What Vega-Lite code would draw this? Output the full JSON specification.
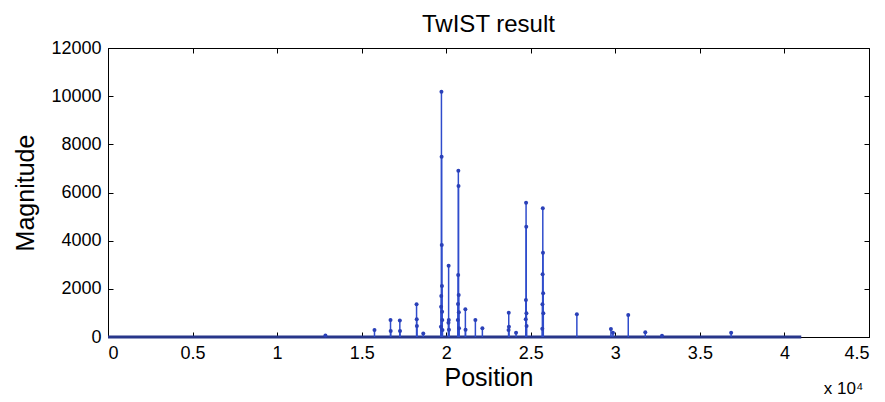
{
  "$schema": "https://vega.github.io/schema/vega-lite/v6.json",
  "autosize": "none",
  "width": 761,
  "height": 289,
  "padding": {"left": 108, "top": 48, "right": 16, "bottom": 65},
  "background": "white",
  "config": {
    "font": "Liberation Sans",
    "view": {"stroke": "black", "strokeWidth": 1},
    "axis": {
      "domainColor": "black", "tickColor": "black", "labelColor": "black", "titleColor": "black",
      "grid": false, "labelFontSize": 18, "titleFontSize": 25, "titleFontWeight": "normal",
      "tickSize": -5, "labelPadding": 12
    }
  },
  "title": {"text": "TwIST result", "fontSize": 24, "fontWeight": "normal", "color": "black", "offset": 2},
  "datasets": {
    "stems": [
      {"x": 12856, "y": 60},
      {"x": 15758, "y": 290},
      {"x": 16706, "y": 706}, {"x": 16716, "y": 250},
      {"x": 17257, "y": 690}, {"x": 17267, "y": 250},
      {"x": 18246, "y": 1358}, {"x": 18256, "y": 735}, {"x": 18266, "y": 455},
      {"x": 18643, "y": 150},
      {"x": 19717, "y": 10187}, {"x": 19727, "y": 7488}, {"x": 19737, "y": 3820}, {"x": 19747, "y": 2118}, {"x": 19707, "y": 1703}, {"x": 19697, "y": 1259}, {"x": 19757, "y": 1052}, {"x": 19767, "y": 706}, {"x": 19687, "y": 429}, {"x": 19777, "y": 290},
      {"x": 20142, "y": 2962}, {"x": 20152, "y": 707}, {"x": 20132, "y": 595}, {"x": 20162, "y": 300},
      {"x": 20717, "y": 6907}, {"x": 20727, "y": 6270}, {"x": 20707, "y": 2575}, {"x": 20737, "y": 1744}, {"x": 20697, "y": 1370}, {"x": 20747, "y": 1025}, {"x": 20687, "y": 706}, {"x": 20757, "y": 360},
      {"x": 21132, "y": 1150}, {"x": 21142, "y": 300},
      {"x": 21724, "y": 706},
      {"x": 22138, "y": 360},
      {"x": 23697, "y": 1010}, {"x": 23707, "y": 430}, {"x": 23687, "y": 290},
      {"x": 24129, "y": 180},
      {"x": 24722, "y": 5578}, {"x": 24732, "y": 4582}, {"x": 24712, "y": 1537}, {"x": 24742, "y": 983}, {"x": 24702, "y": 735}, {"x": 24752, "y": 455},
      {"x": 25711, "y": 5343}, {"x": 25721, "y": 3502}, {"x": 25701, "y": 2602}, {"x": 25731, "y": 1813}, {"x": 25691, "y": 1357}, {"x": 25741, "y": 983}, {"x": 25681, "y": 345},
      {"x": 27725, "y": 941},
      {"x": 29739, "y": 332}, {"x": 29858, "y": 180},
      {"x": 30764, "y": 913},
      {"x": 31771, "y": 195},
      {"x": 32761, "y": 55},
      {"x": 36848, "y": 180}
    ],
    "baseline": [{"x": 0, "x2": 40995, "y": 0}]
  },
  "layer": [
    {
      "data": {"name": "baseline"},
      "mark": {"type": "rule", "color": "#27368a", "strokeWidth": 3},
      "encoding": {
        "x": {"field": "x", "type": "quantitative", "scale": {"domain": [0, 45000], "nice": false},
          "axis": {"orient": "bottom", "values": [0, 5000, 10000, 15000, 20000, 25000, 30000, 35000, 40000, 45000],
            "labelExpr": "format(datum.value / 10000, '~g')", "title": "Position", "titlePadding": 3}},
        "x2": {"field": "x2"},
        "y": {"field": "y", "type": "quantitative", "scale": {"domain": [0, 12000], "nice": false},
          "axis": {"orient": "left", "values": [0, 2000, 4000, 6000, 8000, 10000, 12000], "format": "d",
            "title": "Magnitude", "titlePadding": 12}}
      }
    },
    {
      "data": {"name": "stems"},
      "mark": {"type": "rule", "color": "#2f4ccc", "strokeWidth": 1.5},
      "encoding": {
        "x": {"field": "x", "type": "quantitative", "axis": null},
        "y": {"field": "y", "type": "quantitative", "axis": null},
        "y2": {"datum": 0}
      }
    },
    {
      "data": {"name": "stems"},
      "mark": {"type": "point", "filled": true, "shape": "circle", "size": 16, "color": "#2a40b8", "opacity": 1},
      "encoding": {
        "x": {"field": "x", "type": "quantitative",
          "axis": {"orient": "top", "values": [0, 5000, 10000, 15000, 20000, 25000, 30000, 35000, 40000, 45000],
            "labels": false, "domain": false, "title": "x 10⁴", "titleFontSize": 17,
            "titleX": 735, "titleY": 345, "titleBaseline": "alphabetic", "titleAlign": "center", "titleAnchor": null}},
        "y": {"field": "y", "type": "quantitative",
          "axis": {"orient": "right", "values": [0, 2000, 4000, 6000, 8000, 10000, 12000],
            "labels": false, "domain": false, "title": null}}
      }
    }
  ],
  "resolve": {"axis": {"x": "independent", "y": "independent"}}
}
